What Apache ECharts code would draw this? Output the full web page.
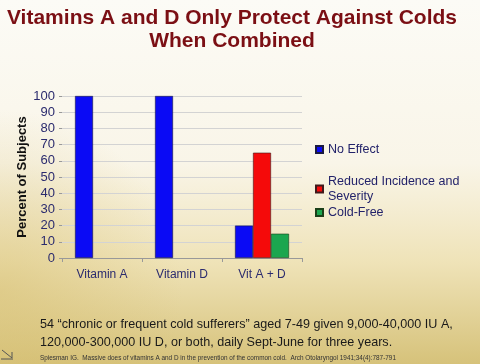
<!DOCTYPE html>
<html><head><meta charset="utf-8">
<script src="https://cdn.jsdelivr.net/npm/echarts@6/dist/echarts.min.js"></script>
<style>html,body{margin:0;padding:0;}#c{width:480px;height:364px;}</style>
</head><body><div id="c"></div>
<script>
const categories = ['Vitamin A', 'Vitamin D', 'Vit A + D'];
const noEffect = [100, 100, 20];
const reduced = [null, null, 65];
const coldFree = [null, null, 15];
const yTicks = {min: 0, max: 100, interval: 10};
const seriesNames = ['No Effect', 'Reduced Incidence and\nSeverity', 'Cold-Free'];

const chart = echarts.init(document.getElementById('c'), null, {renderer: 'canvas'});
const legendBase = {orient: 'vertical', left: 315, padding: 0, itemWidth: 7, itemHeight: 7, itemGap: 0,
  textStyle: {fontFamily: 'Liberation Sans, Arial', fontSize: 12.5, color: '#23236a', lineHeight: 15}, selectedMode: false,
  icon: 'rect'};
const txt = '#2b2b6e';
chart.setOption({
  backgroundColor: {type: 'linear', x: 0, y: 0, x2: 0, y2: 1, colorStops: [
    {offset: 0, color: '#fcfbf6'}, {offset: 0.45, color: '#f9f5e8'}, {offset: 0.72, color: '#efe3b8'}, {offset: 1, color: '#d6c27a'}]},
  graphic: [
    {type: 'rect', shape: {x: 0, y: 0, width: 480, height: 364}, silent: true, z: -10,
     style: {fill: {type: 'radial', x: 0.0, y: 0.8, r: 0.5, colorStops: [{offset: 0, color: 'rgba(214,190,110,0.5)'}, {offset: 1, color: 'rgba(214,190,110,0)'}]}}},
    {type: 'text', x: 232, y: 7, style: {text: 'Vitamins A and D Only Protect Against Colds\nWhen Combined', fill: '#7b0f14',
      font: 'bold 21px Liberation Sans, Arial', textAlign: 'center', lineHeight: 23}},
    {type: 'text', left: 40, top: 316, style: {text: '54 \u201cchronic or frequent cold sufferers\u201d aged 7-49 given 9,000-40,000 IU A,\n120,000-300,000 IU D, or both, daily Sept-June for three years.',
      fill: '#1a1a1a', font: '12.6px Liberation Sans, Arial', lineHeight: 18}},
    {type: 'text', left: 40, top: 355, style: {text: 'Spiesman IG.  Massive does of vitamins A and D in the prevention of the common cold.  Arch Otolaryngol 1941;34(4):787-791',
      fill: '#333', font: '6.4px Liberation Sans, Arial'}},
    {type: 'polyline', shape: {points: [[2, 350], [12, 358], [12, 352]]}, style: {stroke: '#555', lineWidth: 1, fill: null}},
    {type: 'polyline', shape: {points: [[1, 359], [13, 359]]}, style: {stroke: '#555', lineWidth: 1, fill: null}}
  ],
  grid: {left: 62, top: 96, width: 240, height: 162, containLabel: false},
  legend: [
    Object.assign({}, legendBase, {top: 142, data: [seriesNames[0]]}),
    Object.assign({}, legendBase, {top: 174, data: [seriesNames[1]]}),
    Object.assign({}, legendBase, {top: 205, data: [seriesNames[2]]})
  ],
  xAxis: {type: 'category', data: categories,
    axisLine: {lineStyle: {color: '#999'}}, axisTick: {show: true, length: 4, lineStyle: {color: '#999'}},
    axisLabel: {color: txt, fontSize: 12, fontFamily: 'Liberation Sans, Arial', margin: 11}},
  yAxis: {type: 'value', min: yTicks.min, max: yTicks.max, interval: yTicks.interval,
    name: 'Percent of Subjects', nameLocation: 'middle', nameGap: 32,
    nameTextStyle: {color: '#111', fontWeight: 'bold', fontSize: 13, fontFamily: 'Liberation Sans, Arial'},
    axisLine: {show: false}, axisTick: {show: true, length: 3, lineStyle: {color: '#999'}},
    splitLine: {lineStyle: {color: '#d3d3d3'}},
    axisLabel: {color: txt, fontSize: 13, fontFamily: 'Liberation Sans, Arial', margin: 7}},
  series: [
    {name: seriesNames[0], type: 'bar', data: noEffect, barWidth: 18, barGap: '0%',
     itemStyle: {color: '#0a0af5', borderColor: '#1a1a40', borderWidth: 0.6}},
    {name: seriesNames[1], type: 'bar', data: reduced, barWidth: 18, barGap: '0%',
     itemStyle: {color: '#f50a0a', borderColor: '#401a1a', borderWidth: 0.6}},
    {name: seriesNames[2], type: 'bar', data: coldFree, barWidth: 18, barGap: '0%',
     itemStyle: {color: '#1ba64f', borderColor: '#1a401a', borderWidth: 0.6}}
  ]
});
</script></body></html>
